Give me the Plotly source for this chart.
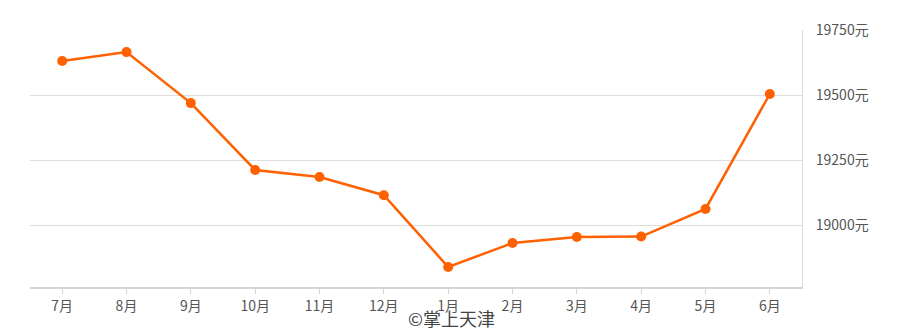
import plotly.graph_objects as go

months = ["7月", "8月", "9月", "10月", "11月", "12月", "1月", "2月", "3月", "4月", "5月", "6月"]
prices = [19631, 19665, 19469, 19212, 19185, 19115, 18839, 18931, 18954, 18956, 19062, 19504]
y_ticks = [19000, 19250, 19500, 19750]
y_tick_labels = [f"{v}元" for v in y_ticks]

fig = go.Figure()
fig.add_trace(go.Scatter(
    x=months, y=prices, mode="lines+markers",
    line=dict(color="#ff6000", width=2.5),
    marker=dict(color="#ff6000", size=10),
    hoverinfo="x+y",
))

fig.update_layout(
    width=900, height=331,
    margin=dict(l=30, r=98, t=30, b=44),
    paper_bgcolor="white", plot_bgcolor="white",
    showlegend=False,
    font=dict(family="Noto Sans CJK SC, sans-serif", size=14, color="#555555"),
    xaxis=dict(
        type="category", range=[-0.5, 11.5],
        showgrid=False, showline=True, linecolor="#d4d4d4", linewidth=2,
        ticks="outside", ticklen=5, tickcolor="#d4d4d4", tickwidth=1,
        tickfont=dict(size=14, color="#555555"),
        fixedrange=True,
    ),
    yaxis=dict(
        side="right", range=[18762, 19750],
        tickvals=y_ticks, ticktext=y_tick_labels,
        showgrid=True, gridcolor="#dddddd", gridwidth=1,
        showline=True, linecolor="#dddddd", linewidth=1,
        zeroline=False, ticks="", ticklabelstandoff=10,
        tickfont=dict(size=14, color="#555555"),
        fixedrange=True,
    ),
    annotations=[dict(
        text="©掌上天津", showarrow=False,
        x=(451 - 30) / (900 - 30 - 98), y=(331 - 44 - 318) / (331 - 30 - 44),
        xref="paper", yref="paper", xanchor="center", yanchor="middle",
        font=dict(family="Noto Sans CJK SC, sans-serif", size=18, color="#444444"),
    )],
)

fig.write_html("out.html")
